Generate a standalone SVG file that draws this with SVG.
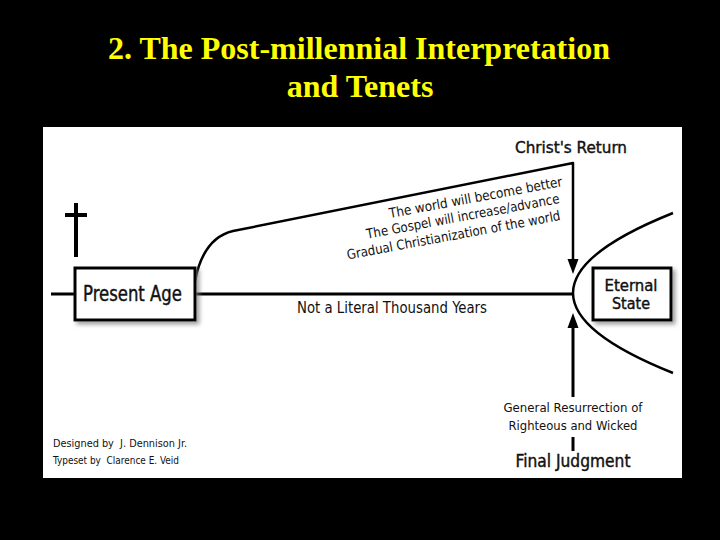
<svg xmlns="http://www.w3.org/2000/svg" width="720" height="540" viewBox="0 0 720 540">
<defs>
<style>
.title{font-family:"Liberation Serif","Times New Roman",serif;font-weight:bold;font-size:32px;fill:#ffff00;text-anchor:middle}
.t{font-family:"DejaVu Sans Condensed","DejaVu Sans",sans-serif;font-stretch:condensed;fill:#111}
.h{stroke:#111;stroke-width:0.4}
.ln{fill:none;stroke:#000;stroke-linecap:butt;stroke-linejoin:round}
.box{fill:#fff;stroke:#000;stroke-width:3}
</style>
<filter id="sh" x="-10%" y="-10%" width="130%" height="140%">
<feDropShadow dx="3" dy="3" stdDeviation="2" flood-color="#777" flood-opacity="0.7"/>
</filter>
</defs>
<rect x="0" y="0" width="720" height="540" fill="#000"/>
<text class="title" x="359" y="59">2. The Post-millennial Interpretation</text>
<text class="title" x="360" y="97">and Tenets</text>
<rect x="43" y="127" width="639" height="351" fill="#fff"/>

<g id="connectors">
<line class="ln" x1="51" y1="294" x2="574" y2="294" stroke-width="3"/>
<path class="ln" d="M195,281 C200,255 212,236 233,231 L573,163 L573,262" stroke-width="2.5"/>
<polygon points="567.5,259 578.5,259 573,274" fill="#000"/>
<line class="ln" x1="573" y1="397" x2="573" y2="326" stroke-width="3"/>
<polygon points="567.5,328 578.5,328 573,313" fill="#000"/>
<line class="ln" x1="573" y1="437" x2="573" y2="451" stroke-width="3"/>
<path class="ln" d="M673,213 Q473,293 673,373" stroke-width="2.5"/>
</g>

<g id="cross">
<line class="ln" x1="76" y1="203" x2="76" y2="257" stroke-width="4"/>
<line class="ln" x1="65" y1="215" x2="87" y2="215" stroke-width="4"/>
</g>

<g id="present-age">
<rect class="box" x="75" y="268" width="120" height="52" filter="url(#sh)"/>
<text class="t h" x="83" y="301" font-size="21" textLength="99" lengthAdjust="spacingAndGlyphs">Present Age</text>
</g>

<g id="eternal-state">
<rect class="box" x="593" y="268" width="78" height="52" filter="url(#sh)"/>
<text class="t h" x="631" y="291" font-size="15.5" text-anchor="middle" textLength="53" lengthAdjust="spacingAndGlyphs">Eternal</text>
<text class="t h" x="631" y="309" font-size="15.5" text-anchor="middle" textLength="38" lengthAdjust="spacingAndGlyphs">State</text>
</g>

<g id="christs-return">
<text class="t h" x="515" y="153" font-size="16" textLength="112" lengthAdjust="spacingAndGlyphs">Christ's Return</text>
</g>

<g id="tenets">
<text class="t" font-size="13.5" text-anchor="end" transform="translate(563,186) rotate(-10.5)" textLength="176" lengthAdjust="spacingAndGlyphs">The world will become better</text>
<text class="t" font-size="13.5" text-anchor="end" transform="translate(560,203) rotate(-10.5)" textLength="196" lengthAdjust="spacingAndGlyphs">The Gospel will increase/advance</text>
<text class="t" font-size="13.5" text-anchor="end" transform="translate(561,220) rotate(-10.5)" textLength="217" lengthAdjust="spacingAndGlyphs">Gradual Christianization of the world</text>
</g>

<g id="not-literal">
<text class="t" x="297" y="313" font-size="15" textLength="190" lengthAdjust="spacingAndGlyphs">Not a Literal Thousand Years</text>
</g>

<g id="resurrection">
<text class="t" x="573" y="412" font-size="13" text-anchor="middle" textLength="139" lengthAdjust="spacingAndGlyphs">General Resurrection of</text>
<text class="t" x="573" y="430" font-size="13" text-anchor="middle" textLength="129" lengthAdjust="spacingAndGlyphs">Righteous and Wicked</text>
</g>

<g id="final-judgment">
<text class="t h" x="573" y="467" font-size="17" text-anchor="middle" textLength="115" lengthAdjust="spacingAndGlyphs">Final Judgment</text>
</g>

<g id="credits">
<text class="t" x="53" y="447" font-size="11" textLength="134" lengthAdjust="spacingAndGlyphs">Designed by&#160; J. Dennison Jr.</text>
<text class="t" x="53" y="464" font-size="11" textLength="126" lengthAdjust="spacingAndGlyphs">Typeset by&#160; Clarence E. Veid</text>
</g>
</svg>
